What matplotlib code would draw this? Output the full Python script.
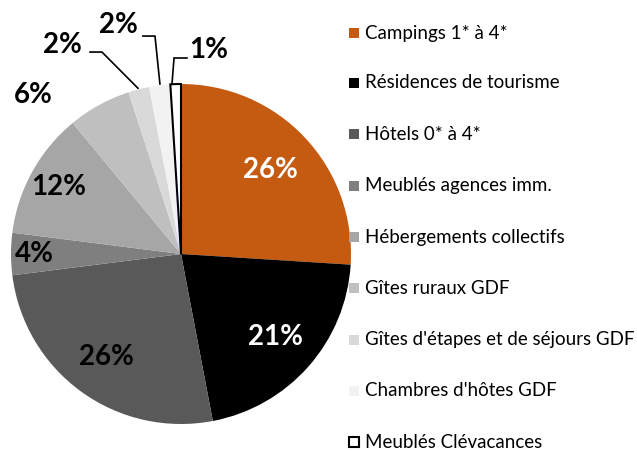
import matplotlib
matplotlib.use("Agg")
import matplotlib.pyplot as plt
import numpy as np
from matplotlib.patches import Rectangle

categories = ["Campings 1* à 4*", "Résidences de tourisme", "Hôtels 0* à 4*",
              "Meublés agences imm.", "Hébergements collectifs", "Gîtes ruraux GDF",
              "Gîtes d'étapes et de séjours GDF", "Chambres d'hôtes GDF", "Meublés Clévacances"]
values = [26, 21, 26, 4, 12, 6, 2, 2, 1]
labels = ["26%", "21%", "26%", "4%", "12%", "6%", "2%", "2%", "1%"]
colors = ["#C55A11", "#000000", "#595959", "#7F7F7F", "#A6A6A6",
          "#BFBFBF", "#D9D9D9", "#F2F2F2", "#FFFFFF"]
label_colors = ["white", "white", "black", "black", "black", "black", "black", "black", "black"]

W, H = 637, 451
fig = plt.figure(figsize=(W / 100, H / 100), dpi=100)
cx, cy, R = 181, 254, 170
ax = fig.add_axes([(cx - R) / W, (H - cy - R) / H, 2 * R / W, 2 * R / H])
wedges, _ = ax.pie(values, colors=colors, startangle=90, counterclock=False,
                   radius=1, wedgeprops=dict(linewidth=0))
wedges[-1].set_edgecolor("black")
wedges[-1].set_linewidth(1.5)
ax.set_xlim(-1, 1)
ax.set_ylim(-1, 1)
ax.set_aspect("auto")
ax.axis("off")

font = ["Lato", "DejaVu Sans"]

inside_r = {0: 0.72, 1: 0.74, 2: 0.75, 3: 0.86, 4: 0.82}
outside_pos = {5: (-0.87, 0.935), 6: (-0.70, 1.229), 7: (-0.37, 1.347), 8: (0.16, 1.20)}
leaders = {6: [(-0.535, 1.188), (-0.465, 1.188), (-0.253, 0.975)],
           7: [(-0.224, 1.282), (-0.153, 1.282), (-0.124, 1.0)],
           8: [(0.035, 1.153), (-0.041, 1.153), (-0.053, 1.0)]}

for i, w in enumerate(wedges):
    if i in inside_r:
        ang = np.deg2rad((w.theta1 + w.theta2) / 2)
        x, y = inside_r[i] * np.cos(ang), inside_r[i] * np.sin(ang)
    else:
        x, y = outside_pos[i]
    ax.text(x, y, labels[i], ha="center", va="center", fontsize=20, fontweight="bold",
            color=label_colors[i], family=font, clip_on=False)
    if i in leaders:
        xs, ys = zip(*leaders[i])
        ax.plot(xs, ys, color="black", lw=1.2, clip_on=False, solid_joinstyle="miter")

ys = [33, 83, 134, 186, 237, 288, 340, 391, 442]
for c, name, yp in zip(colors, categories, ys):
    fig.patches.append(Rectangle((349 / W, (H - yp - 5) / H), 10 / W, 10 / H,
                                 transform=fig.transFigure, facecolor=c,
                                 edgecolor="black" if c == "#FFFFFF" else "none", lw=1.5))
    fig.text(365 / W, (H - yp) / H, name, ha="left", va="center", fontsize=13.5,
             family=font, color="black")

fig.savefig("out.png", dpi=100)
